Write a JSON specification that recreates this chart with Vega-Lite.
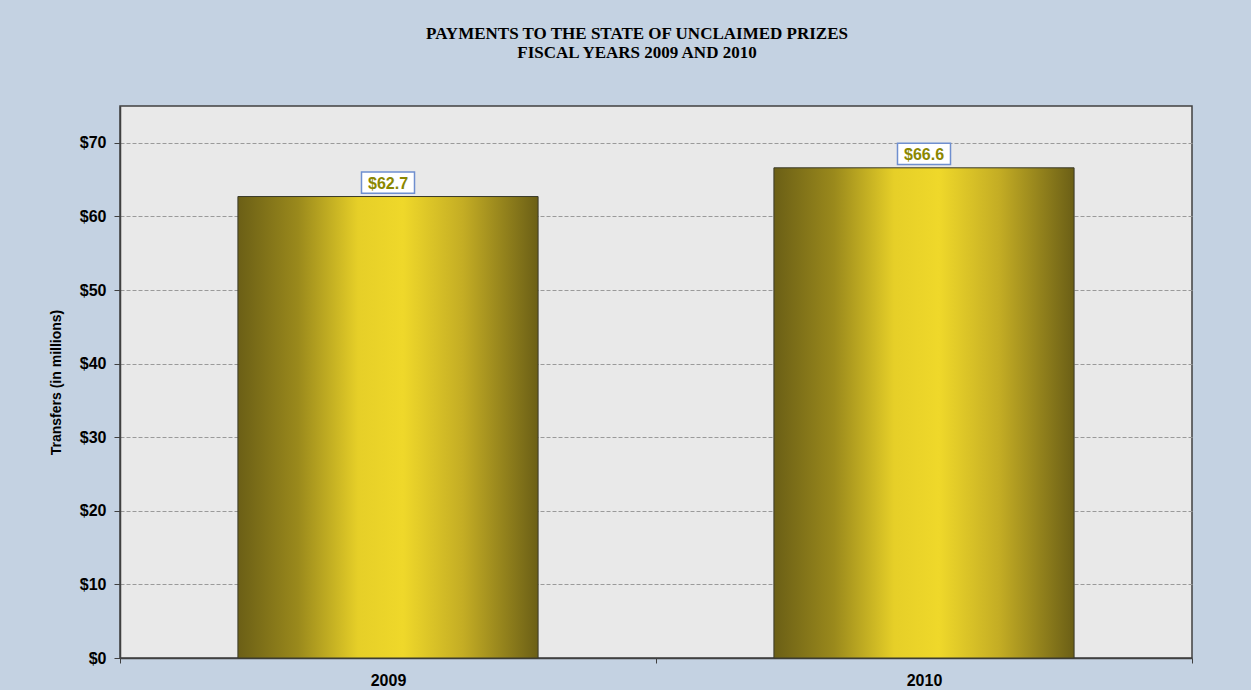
{
  "$schema": "https://vega.github.io/schema/vega-lite/v6.json",
  "autosize": {"type": "none"},
  "width": 1072,
  "height": 552,
  "padding": {"left": 120, "top": 106, "right": 59, "bottom": 32},
  "background": "#c4d2e2",
  "title": {
    "text": ["PAYMENTS TO THE STATE OF UNCLAIMED PRIZES", "FISCAL YEARS 2009 AND 2010"],
    "font": "Liberation Serif",
    "fontSize": 17,
    "fontWeight": "bold",
    "color": "#000000",
    "anchor": "middle",
    "dx": -19,
    "offset": 44,
    "lineHeight": 19
  },
  "data": {
    "values": [
      {"year": "2009", "amount": 62.7},
      {"year": "2010", "amount": 66.6}
    ]
  },
  "config": {
    "view": {"fill": "#e9e9e9", "stroke": "#404040", "strokeWidth": 1.5},
    "axis": {"labelFont": "Liberation Sans", "labelFontWeight": "bold", "labelFontSize": 16, "labelColor": "#000000", "titleColor": "#000000"}
  },
  "encoding": {
    "x": {
      "field": "year", "type": "nominal",
      "scale": {"paddingInner": 0, "paddingOuter": 0},
      "axis": {"title": null, "labelAngle": 0, "tickBand": "extent", "domainColor": "#404040", "domainWidth": 1.5, "tickColor": "#404040", "tickSize": 5, "labelPadding": 9, "grid": false}
    },
    "y": {
      "field": "amount", "type": "quantitative",
      "scale": {"domain": [0, 75], "nice": false, "zero": true},
      "axis": {
        "title": "Transfers (in millions)",
        "titleFont": "Liberation Sans Narrow, Liberation Sans",
        "titleFontSize": 14,
        "titleFontWeight": "bold",
        "titlePadding": 16,
        "values": [0, 10, 20, 30, 40, 50, 60, 70],
        "format": "$.0f",
        "tickColor": "#404040", "tickSize": 6, "labelPadding": 8,
        "domainColor": "#404040", "domainWidth": 1.5,
        "grid": true, "gridColor": "#9a9a9a", "gridDash": [4, 2], "gridWidth": 1
      }
    }
  },
  "layer": [
    {
      "mark": {
        "type": "bar",
        "width": {"band": 0.56},
        "stroke": "#3a3a2a",
        "strokeWidth": 1,
        "color": {
          "gradient": "linear", "x1": 0, "x2": 1, "y1": 0, "y2": 0,
          "stops": [
            {"offset": 0, "color": "#6b5f16"},
            {"offset": 0.2, "color": "#9a891c"},
            {"offset": 0.4, "color": "#e6cf28"},
            {"offset": 0.55, "color": "#efd82a"},
            {"offset": 0.75, "color": "#c4ad24"},
            {"offset": 1, "color": "#6b5f16"}
          ]
        }
      }
    },
    {
      "mark": {
        "type": "point",
        "shape": "M-1,-0.4H1V0.4H-1Z",
        "size": 2809,
        "filled": true,
        "fill": "#ffffff",
        "stroke": "#6f8fcf",
        "strokeWidth": 1.5,
        "opacity": 1,
        "yOffset": -14
      }
    },
    {
      "mark": {
        "type": "text",
        "font": "Liberation Sans",
        "fontWeight": "bold",
        "fontSize": 16,
        "color": "#8b8700",
        "baseline": "middle",
        "yOffset": -13
      },
      "encoding": {"text": {"field": "amount", "type": "quantitative", "format": "$.1f"}}
    }
  ]
}
